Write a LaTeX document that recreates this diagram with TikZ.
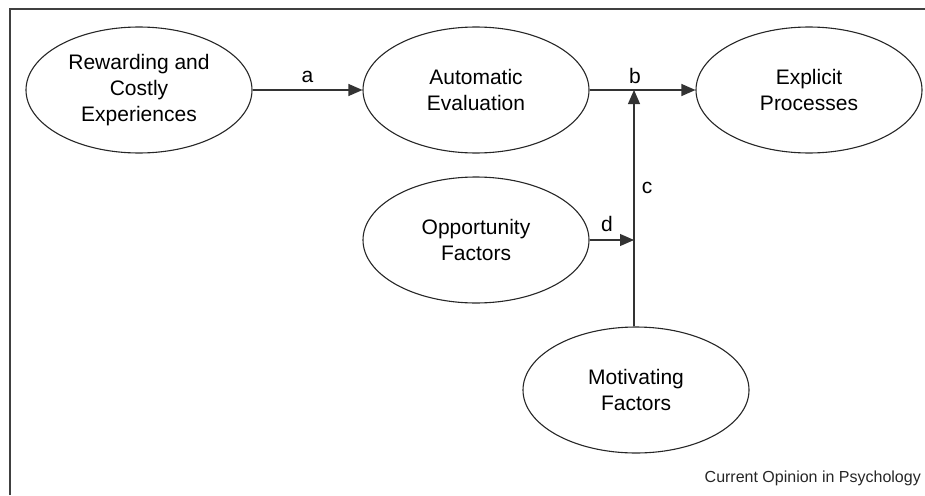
\documentclass[tikz,border=0pt]{standalone}
\usepackage{fontspec}
\setmainfont{Liberation Sans}
\usetikzlibrary{shapes.geometric,arrows.meta}
\begin{document}
\begin{tikzpicture}[x=1pt,y=-1pt,
  oval/.style={draw=black!85,line width=1.1pt,ellipse,minimum width=226pt,minimum height=126pt,inner sep=0pt,align=center,font=\fontsize{21}{26}\selectfont},
  conn/.style={draw=black!80,line width=1.1pt},
  arr/.style={conn,-{Triangle[length=14pt,width=12pt]}},
  lbl/.style={font=\fontsize{21}{25}\selectfont,inner sep=0pt}]
\useasboundingbox (0,0) rectangle (925,495);
\draw[black!75,line width=1.5pt] (10,495) -- (10,9) -- (925,9);
\node[oval] (rew) at (139,90) {Rewarding and\\Costly\\Experiences};
\node[oval] (aut) at (476,90) {Automatic\\Evaluation};
\node[oval] (exp) at (809,90) {Explicit\\Processes};
\node[oval] (opp) at (476,240) {Opportunity\\Factors};
\node[oval] (mot) at (636,390) {Motivating\\Factors};
\coordinate (cb) at (634,90);
\coordinate (cd) at (634,240);
\draw[arr] (rew.east) -- node[lbl,above=7pt] {a} (aut.west);
\draw[arr] (aut.east) -- (exp.west);
\node[lbl] (lb) at (635,76) {b};
\draw[arr] (cb |- mot.north) -- (cb);
\node[lbl] (lc) at (647,188) {c};
\draw[arr] (opp.east) -- (cd);
\node[lbl] (ld) at (607,224) {d};
\node[anchor=base east,inner sep=0pt,font=\fontsize{16}{19}\selectfont,text=black!85] (cr) at (921,482) {Current Opinion in Psychology};
\end{tikzpicture}
\end{document}
